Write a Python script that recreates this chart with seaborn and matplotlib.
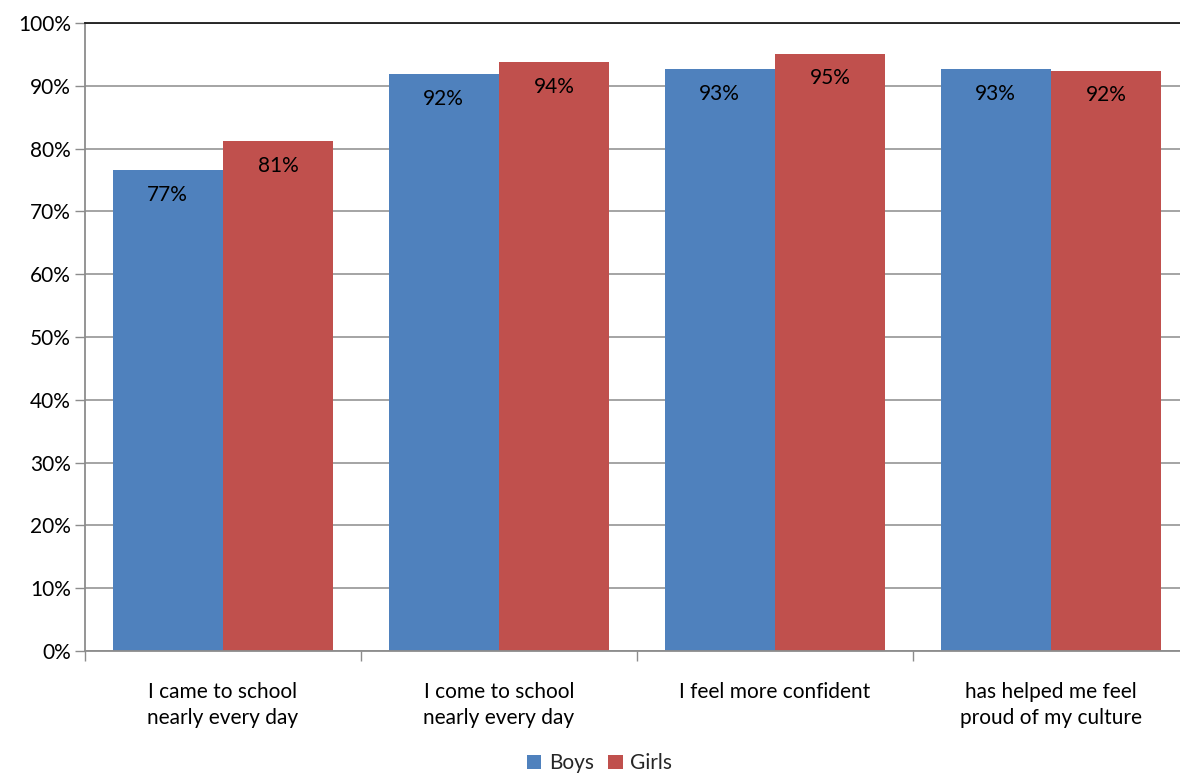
import matplotlib
matplotlib.use("Agg")
import matplotlib.pyplot as plt
import seaborn as sns
import pandas as pd
from matplotlib.ticker import FixedLocator, PercentFormatter

categories = [
    "I came to school\nnearly every day",
    "I come to school\nnearly every day",
    "I feel more confident",
    "has helped me feel\nproud of my culture",
]
boys = [76.6, 91.9, 92.6, 92.6]
girls = [81.2, 93.8, 95.1, 92.4]
series = ["Boys", "Girls"]
colors = ["#4F81BD", "#C0504D"]

df = pd.DataFrame({
    "category": categories * 2,
    "value": boys + girls,
    "group": [series[0]] * len(boys) + [series[1]] * len(girls),
})

sns.set_theme(style="white")
plt.rcParams["font.family"] = ["Lato", "DejaVu Sans"]
FS = 15

fig = plt.figure(figsize=(11.8, 7.74), dpi=100)
ax = fig.add_axes([85 / 1180, 123 / 774, 1104 / 1180, 628 / 774])

sns.barplot(data=df, x="category", y="value", hue="group", palette=colors,
            width=0.8, saturation=1, linewidth=0, ax=ax, legend=True)

ax.set_xlim(-0.5, 3.5)
ax.set_ylim(0, 100)
ax.yaxis.set_major_locator(FixedLocator(range(0, 101, 10)))
ax.yaxis.set_major_formatter(PercentFormatter(decimals=0))
ax.grid(axis="y", color="#8C8C8C", linewidth=1.1)
ax.set_axisbelow(True)
ax.set_xlabel("")
ax.set_ylabel("")

for side in ["left", "bottom"]:
    ax.spines[side].set_color("#8C8C8C")
    ax.spines[side].set_linewidth(1.3)
ax.spines["right"].set_visible(False)
ax.spines["top"].set_color("#1A1A1A")
ax.spines["top"].set_linewidth(1.3)

ax.tick_params(axis="y", which="major", length=7, color="#8C8C8C", width=1,
               labelsize=FS, labelcolor="#000000", pad=3, left=True)
ax.tick_params(axis="x", which="major", length=0, labelsize=FS,
               labelcolor="#000000", pad=22)
for lbl in ax.get_xticklabels():
    lbl.set_linespacing(1.4)
ax.xaxis.set_minor_locator(FixedLocator([-0.5, 0.5, 1.5, 2.5, 3.5]))
ax.tick_params(axis="x", which="minor", length=7, color="#8C8C8C", width=1,
               bottom=True)

for container in ax.containers:
    labels = [f"{b.get_height():.0f}%" for b in container]
    ax.bar_label(container, labels=labels, label_type="edge", padding=-25,
                 fontsize=FS, color="#000000")

handles, labs = ax.get_legend_handles_labels()
ax.get_legend().remove()
fig.legend(handles, labs, loc="center", bbox_to_anchor=(0.508, 0.014),
           ncol=2, frameon=False, fontsize=FS, handlelength=0.7,
           handleheight=0.7, handletextpad=0.35, columnspacing=0.7,
           borderpad=0.1)

fig.savefig("out.png", dpi=100)
